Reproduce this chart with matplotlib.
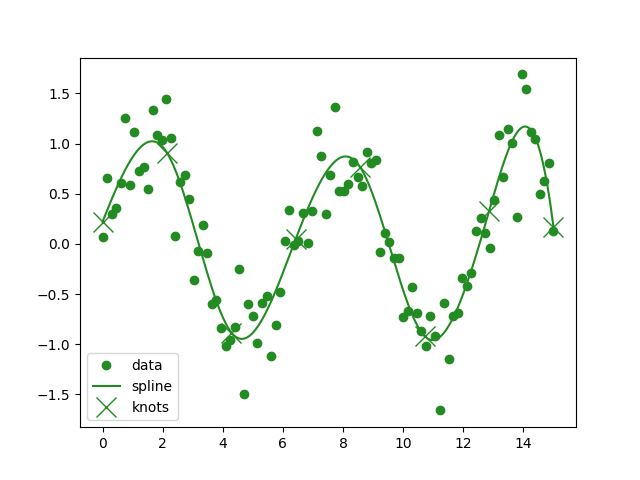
import numpy as np
import matplotlib
matplotlib.use("Agg")
import matplotlib.pyplot as plt

# data (100 samples on 0..15)
x = np.linspace(0, 15, 100)
y = np.array([
    0.07, 0.66, 0.30, 0.36, 0.61, 1.26, 0.59, 1.12, 0.73, 0.77,
    0.55, 1.34, 1.09, 1.04, 1.44, 1.06, 0.08, 0.62, 0.69, 0.45,
    -0.36, -0.07, 0.19, -0.09, -0.60, -0.56, -0.84, -1.02, -0.96, -0.83,
    -0.25, -1.50, -0.60, -0.72, -0.99, -0.59, -0.52, -1.12, -0.81, -0.48,
    0.03, 0.34, -0.01, 0.03, 0.31, 0.01, 0.33, 1.13, 0.88, 0.30,
    0.69, 1.36, 0.53, 0.53, 0.60, 0.82, 0.67, 0.58, 0.92, 0.81,
    0.84, -0.08, 0.11, 0.02, -0.14, -0.14, -0.73, -0.67, -0.43, -0.69,
    -0.87, -1.02, -0.72, -0.92, -1.66, -0.59, -1.15, -0.72, -0.69, -0.34,
    -0.42, -0.29, 0.13, 0.26, 0.11, -0.04, 0.44, 1.09, 0.67, 1.15,
    1.01, 0.27, 1.69, 1.54, 1.12, 1.05, 0.50, 0.63, 0.81, 0.13,
])

k = 3
knots = np.linspace(0, 15, 8)
t = np.r_[[knots[0]] * k, knots, [knots[-1]] * k]


def bspline_basis(xv, t, k):
    xv = np.asarray(xv, float)
    n = len(t) - k - 1
    B = np.zeros((len(xv), len(t) - 1))
    for i in range(len(t) - 1):
        B[:, i] = (xv >= t[i]) & (xv < t[i + 1])
    # right end belongs to last non-empty interval
    last = np.max(np.nonzero(t[:-1] < t[1:]))
    B[xv == t[-1], last] = 1.0
    for d in range(1, k + 1):
        Bn = np.zeros((len(xv), len(t) - 1 - d))
        for i in range(len(t) - 1 - d):
            a = t[i + d] - t[i]
            b = t[i + d + 1] - t[i + 1]
            term = 0.0
            if a > 0:
                term = term + (xv - t[i]) / a * B[:, i]
            if b > 0:
                term = term + (t[i + d + 1] - xv) / b * B[:, i + 1]
            Bn[:, i] = term
        B = Bn
    return B[:, :n]


A = bspline_basis(x, t, k)
c, *_ = np.linalg.lstsq(A, y, rcond=None)

xs = np.linspace(0, 15, 300)
ys = bspline_basis(xs, t, k) @ c
yk = bspline_basis(knots, t, k) @ c

color = 'forestgreen'
fig, ax = plt.subplots(figsize=(6.4, 4.8), dpi=100)
ax.plot(x, y, 'o', color=color, label='data')
ax.plot(xs, ys, '-', color=color, label='spline')
ax.plot(knots, yk, 'x', color=color, ms=15, label='knots')
ax.legend(loc='lower left')

plt.savefig('out.png', dpi=100)
